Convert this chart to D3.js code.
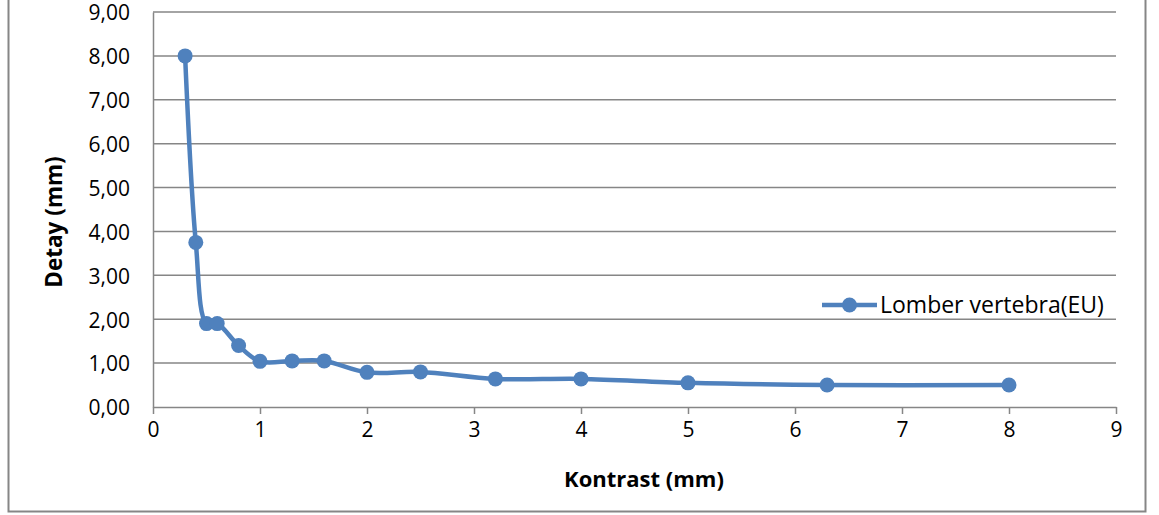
<!DOCTYPE html>
<html>
<head>
<meta charset="utf-8">
<script src="https://cdn.jsdelivr.net/npm/d3@7"></script>
<style>
  body { margin: 0; background: #fff; }
  svg text { font-family: "Open Sans", sans-serif; fill: #000; }
</style>
</head>
<body>
<div id="chart"></div>
<script>
const width = 1159;
const height = 515;

// Values
const kontrast = [0.3, 0.4, 0.5, 0.6, 0.8, 1.0, 1.3, 1.6, 2.0, 2.5, 3.2, 4.0, 5.0, 6.3, 8.0];
const detay = [8.00, 3.75, 1.90, 1.90, 1.40, 1.04, 1.05, 1.05, 0.79, 0.80, 0.64, 0.64, 0.55, 0.50, 0.50];
const xTicks = [0, 1, 2, 3, 4, 5, 6, 7, 8, 9];
const yTicks = [0, 1, 2, 3, 4, 5, 6, 7, 8, 9];
const seriesName = 'Lomber vertebra(EU)';

const blue = '#4f81bd';
const gray = '#868686';

const plot = {left: 153, right: 1116, top: 12, bottom: 407};

const tr = d3.formatLocale({decimal: ',', thousands: '.', grouping: [3], currency: ['', '']});
const fmt2 = tr.format('.2f');

const data = kontrast.map((k, i) => ({x: k, y: detay[i]}));

const x = d3.scaleLinear().domain([0, 9]).range([plot.left, plot.right]);
const y = d3.scaleLinear().domain([0, 9]).range([plot.bottom, plot.top]);

const svg = d3.select('#chart').append('svg')
  .attr('width', width)
  .attr('height', height);

// outer frame (top edge is cut off in the picture)
svg.append('rect')
  .attr('x', 8.5).attr('y', -10)
  .attr('width', 1137).attr('height', 521.5)
  .attr('fill', 'none')
  .attr('stroke', gray)
  .attr('stroke-width', 2);

// horizontal gridlines
svg.append('g')
  .selectAll('line')
  .data(yTicks.slice(1))
  .join('line')
    .attr('x1', plot.left).attr('x2', plot.right)
    .attr('y1', d => y(d)).attr('y2', d => y(d))
    .attr('stroke', gray)
    .attr('stroke-width', 1.5);

// y axis
const yAxis = svg.append('g')
  .attr('transform', `translate(${plot.left},0)`)
  .call(d3.axisLeft(y).tickValues(yTicks).tickSize(0).tickPadding(23).tickFormat(fmt2));
yAxis.select('.domain').attr('stroke', gray).attr('stroke-width', 1.5);
yAxis.selectAll('text')
  .attr('font-size', 21)
  .attr('font-family', '"Open Sans", sans-serif')
  .attr('dy', '0.37em');

// x axis
const xAxis = svg.append('g')
  .attr('transform', `translate(0,${plot.bottom})`)
  .call(d3.axisBottom(x).tickValues(xTicks).tickSize(7).tickSizeOuter(0).tickPadding(8));
xAxis.select('.domain').attr('stroke', gray).attr('stroke-width', 1.5);
xAxis.selectAll('.tick line').attr('stroke', gray).attr('stroke-width', 1.5);
xAxis.selectAll('text')
  .attr('font-size', 21)
  .attr('font-family', '"Open Sans", sans-serif');

// axis titles
svg.append('text')
  .attr('x', 644).attr('y', 487)
  .attr('text-anchor', 'middle')
  .attr('font-size', 22)
  .attr('font-weight', 'bold')
  .text('Kontrast (mm)');

svg.append('text')
  .attr('transform', 'translate(62,222) rotate(-90)')
  .attr('text-anchor', 'middle')
  .attr('font-size', 22.5)
  .attr('font-weight', 'bold')
  .text('Detay (mm)');

// series
const line = d3.line()
  .x(d => x(d.x))
  .y(d => y(d.y))
  .curve(d3.curveCatmullRom.alpha(0.5));

svg.append('path')
  .datum(data)
  .attr('d', line)
  .attr('fill', 'none')
  .attr('stroke', blue)
  .attr('stroke-width', 4.5)
  .attr('stroke-linejoin', 'round');

svg.append('g')
  .selectAll('circle')
  .data(data)
  .join('circle')
    .attr('cx', d => x(d.x))
    .attr('cy', d => y(d.y))
    .attr('r', 7.5)
    .attr('fill', blue);

// legend
const legend = svg.append('g').attr('transform', 'translate(822,305)');
legend.append('line')
  .attr('x1', 0).attr('x2', 55)
  .attr('stroke', blue).attr('stroke-width', 4.5);
legend.append('circle')
  .attr('cx', 27.5).attr('r', 7.5).attr('fill', blue);
legend.append('text')
  .attr('x', 58).attr('dy', '0.36em')
  .attr('font-size', 23)
  .text(seriesName);
</script>
</body>
</html>
